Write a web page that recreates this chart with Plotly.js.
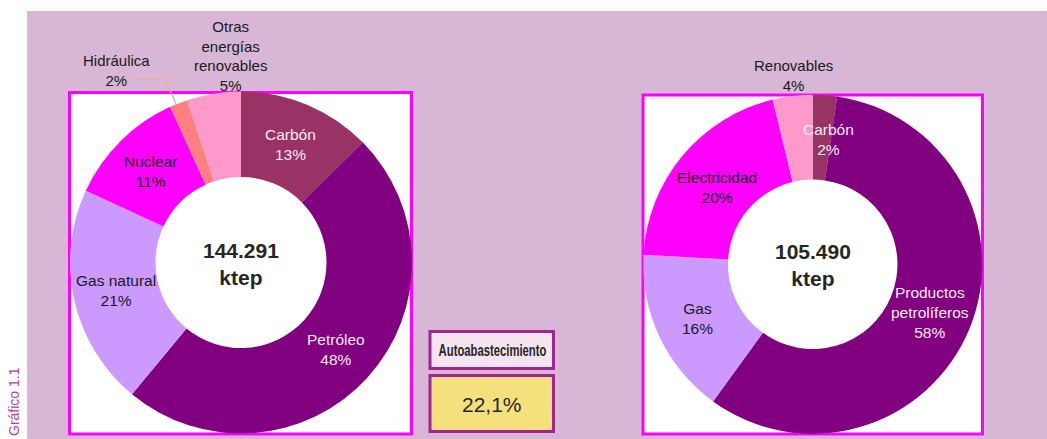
<!DOCTYPE html>
<html>
<head>
<meta charset="utf-8">
<script src="https://cdn.plot.ly/plotly-3.0.1.min.js"></script>
<style>html,body{margin:0;padding:0;background:#fff;}#chart{width:1047px;height:439px;}</style>
</head>
<body>
<div id="chart"></div>
<script>
// ---- data ----
const primaryLabels = ["Carbón", "Petróleo", "Gas natural", "Nuclear", "Hidráulica", "Otras energías renovables"];
const primaryValues = [12.6, 48.4, 20.9, 11.3, 1.7, 5.1];
const primaryTotal = 144291;
const finalLabels = ["Carbón", "Productos petrolíferos", "Gas", "Electricidad", "Renovables"];
const finalValues = [2.3, 57.7, 15.9, 20.3, 3.8];
const finalTotal = 105490;
const selfSupplyLabel = "Autoabastecimiento";
const selfSupplyValue = "22,1%";
const sideLabel = "Gráfico 1.1";

// ---- styles ----
const primaryColors = ["#993366", "#800080", "#cc99ff", "#ff00ff", "#ff8080", "#ff99cc"];
const finalColors = ["#993366", "#800080", "#cc99ff", "#ff00ff", "#ff99cc"];
const W = 1047, H = 439;
const X = px => px / W;
const Y = py => 1 - py / H;
const FONT = "Liberation Sans, Arial, sans-serif";
const HOLE = 0.5;

const pies = [
  {labels: primaryLabels, values: primaryValues, colors: primaryColors, total: primaryTotal,
   cx: 241, cy: 262.5, r: 171,
   lightText: [true, true, false, false, false, false],
   lineText: {"Otras energías renovables": "Otras<br>energías<br>renovables"},
   outside: {
     "Hidráulica": {x: 116, y: 70},
     "Otras energías renovables": {x: 230, y: 56}
   },
   shift: {}},
  {labels: finalLabels, values: finalValues, colors: finalColors, total: finalTotal,
   cx: 812.7, cy: 264.3, r: 169.5,
   lightText: [true, true, false, false, false],
   lineText: {"Productos petrolíferos": "Productos<br>petrolíferos"},
   outside: {"Renovables": {x: 793, y: 75.5}},
   shift: {"Carbón": {dx: 7, dy: 2}, "Electricidad": {dx: 2, dy: 5}}}
];

const fmtThousands = n => String(n).replace(/\B(?=(\d{3})+(?!\d))/g, ".");

const traces = [];
const annotations = [];
const shapes = [];

// background
shapes.push({type: "rect", xref: "paper", yref: "paper", x0: X(27), x1: 1, y0: 0, y1: Y(11),
  fillcolor: "#d8b6d6", line: {width: 0}, layer: "below"});
// white boxes with magenta borders
shapes.push({type: "rect", xref: "paper", yref: "paper", x0: X(69.5), x1: X(411.5), y0: Y(434), y1: Y(92.5),
  fillcolor: "#ffffff", line: {color: "#ff00ff", width: 3}, layer: "below"});
shapes.push({type: "rect", xref: "paper", yref: "paper", x0: X(643), x1: X(982.5), y0: Y(434), y1: Y(95),
  fillcolor: "#ffffff", line: {color: "#ff00ff", width: 3}, layer: "below"});

pies.forEach((p, k) => {
  const sum = p.values.reduce((a, b) => a + b, 0);
  traces.push({
    type: "pie", labels: p.labels, values: p.values, sort: false, direction: "clockwise",
    rotation: 0, hole: HOLE, textinfo: "none", hoverinfo: "none", showlegend: false,
    marker: {colors: p.colors, line: {width: 0}},
    domain: {x: [X(p.cx - p.r), X(p.cx + p.r)], y: [Y(p.cy + p.r), Y(p.cy - p.r)]}
  });
  // center total
  annotations.push({xref: "paper", yref: "paper", x: X(p.cx), y: Y(p.cy + 1), showarrow: false,
    text: "<b>" + fmtThousands(p.total) + "<br>ktep</b>", font: {family: FONT, size: 21, color: "#262626"},
    xanchor: "center", yanchor: "middle"});
  // slice labels
  let cum = 0;
  p.values.forEach((v, i) => {
    const name = p.labels[i];
    const pct = Math.round(v / sum * 100) + "%";
    const txt = (p.lineText[name] || name) + "<br>" + pct;
    const mid = (cum + v / 2) / sum * 2 * Math.PI;
    cum += v;
    if (p.outside[name]) {
      const o = p.outside[name];
      annotations.push({xref: "paper", yref: "paper", x: X(o.x), y: Y(o.y), showarrow: false, text: txt,
        font: {family: FONT, size: 15, color: "#1a1a1a"}, xanchor: "center", yanchor: "middle"});
      return;
    }
    const R = p.r * (1 + HOLE) / 2;
    const s = p.shift[name] || {dx: 0, dy: 0};
    const px = p.cx + R * Math.sin(mid) + s.dx;
    const py = p.cy - R * Math.cos(mid) + s.dy;
    annotations.push({xref: "paper", yref: "paper", x: X(px), y: Y(py), showarrow: false, text: txt,
      font: {family: FONT, size: 15.5, color: p.lightText[i] ? "#f7eaf5" : "#1a1a1a"},
      xanchor: "center", yanchor: "middle"});
  });
});

// leader line for Hidráulica
shapes.push({type: "path", xref: "paper", yref: "paper",
  path: `M ${X(133)} ${Y(79)} L ${X(165)} ${Y(79)} L ${X(176)} ${Y(104)}`,
  line: {color: "#f7a98a", width: 1.2}});

// autoabastecimiento boxes
shapes.push({type: "rect", xref: "paper", yref: "paper", x0: X(430), x1: X(553.5), y0: Y(368.5), y1: Y(331.5),
  fillcolor: "#f3e4f0", line: {color: "#a2248f", width: 3}});
shapes.push({type: "rect", xref: "paper", yref: "paper", x0: X(430), x1: X(553.5), y0: Y(431.5), y1: Y(375.5),
  fillcolor: "#f5e07e", line: {color: "#a2248f", width: 3}});
annotations.push({xref: "paper", yref: "paper", x: X(492), y: Y(350), showarrow: false,
  text: "<b>" + selfSupplyLabel + "</b>", font: {family: FONT, size: 16, color: "#262626"},
  xanchor: "center", yanchor: "middle"});
annotations.push({xref: "paper", yref: "paper", x: X(492), y: Y(404), showarrow: false,
  text: selfSupplyValue, font: {family: FONT, size: 21, color: "#262626"},
  xanchor: "center", yanchor: "middle"});

// side label
annotations.push({xref: "paper", yref: "paper", x: X(14), y: Y(402), showarrow: false, textangle: -90,
  text: sideLabel, font: {family: FONT, size: 14, color: "#a8449f"}, xanchor: "center", yanchor: "middle"});

Plotly.newPlot("chart", traces, {
  width: W, height: H, margin: {l: 0, r: 0, t: 0, b: 0},
  paper_bgcolor: "#ffffff", plot_bgcolor: "#ffffff",
  shapes: shapes, annotations: annotations, showlegend: false
}, {displayModeBar: false, staticPlot: true}).then(gd => {
  // condense the "Autoabastecimiento" caption horizontally, as in the reference
  gd.querySelectorAll("g.annotation text").forEach(t => {
    if (t.textContent === selfSupplyLabel) {
      const b = t.getBBox();
      const cx = b.x + b.width / 2;
      const s = 108 / b.width;
      t.setAttribute("transform", `translate(${cx},0) scale(${s},1) translate(${-cx},0)`);
    }
  });
});
</script>
</body>
</html>
